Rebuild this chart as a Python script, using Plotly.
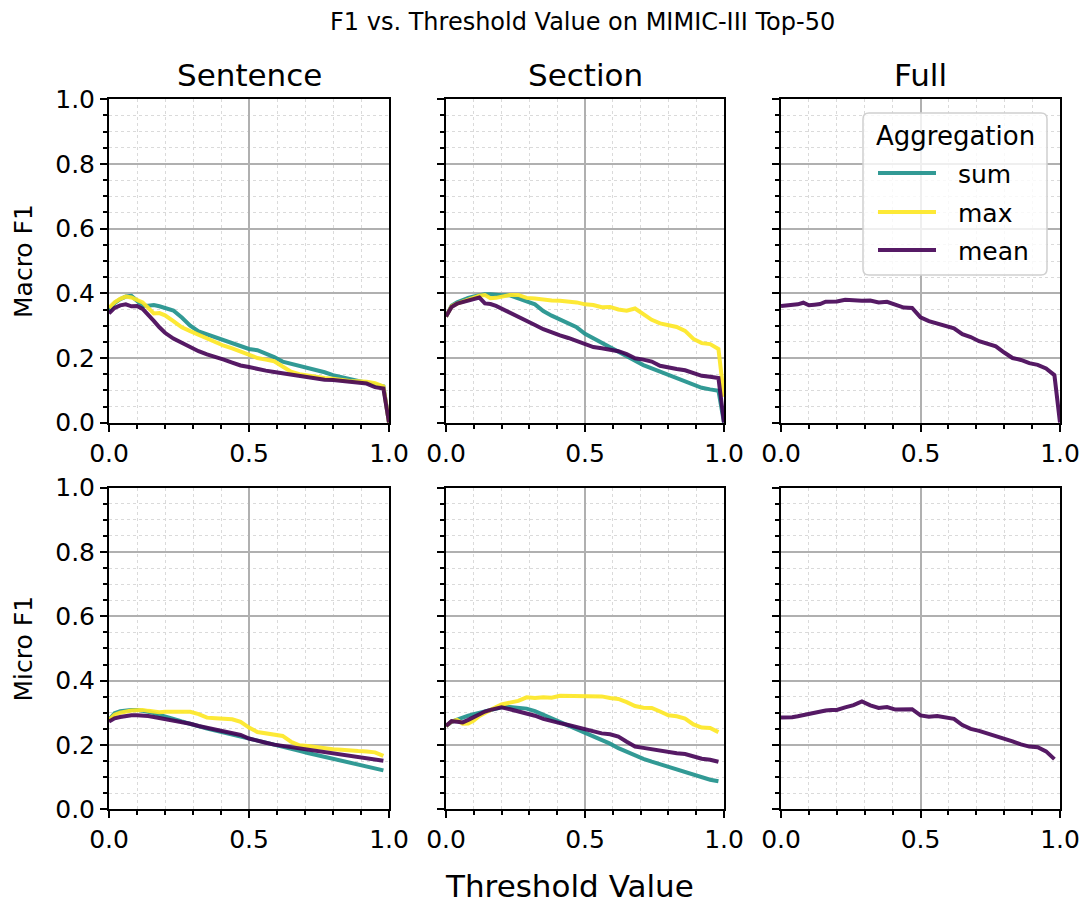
import plotly.graph_objects as go

# ---------------- data ----------------
thresholds = [0.0, 0.02, 0.04, 0.06, 0.08, 0.10, 0.12, 0.14, 0.16, 0.18,
              0.20, 0.23, 0.26, 0.29, 0.32, 0.35, 0.38, 0.41, 0.44, 0.47,
              0.50, 0.53, 0.56, 0.59, 0.62, 0.65, 0.68, 0.71, 0.74, 0.77,
              0.80, 0.83, 0.86, 0.89, 0.92, 0.95, 0.98]
thresholds_macro = thresholds + [1.0]

sentence_macro_sum = [0.345, 0.370, 0.382, 0.390, 0.392, 0.375, 0.362, 0.362, 0.364, 0.360,
                      0.356, 0.347, 0.325, 0.300, 0.282, 0.273, 0.264, 0.253, 0.243, 0.234,
                      0.228, 0.224, 0.215, 0.203, 0.189, 0.183, 0.176, 0.171, 0.163, 0.156,
                      0.147, 0.140, 0.134, 0.129, 0.124, 0.118, 0.112, 0.0]
sentence_macro_max = [0.355, 0.372, 0.383, 0.390, 0.387, 0.379, 0.372, 0.355, 0.338, 0.339,
                      0.332, 0.314, 0.295, 0.283, 0.272, 0.259, 0.248, 0.238, 0.230, 0.220,
                      0.210, 0.200, 0.195, 0.190, 0.174, 0.158, 0.150, 0.145, 0.141, 0.138,
                      0.136, 0.132, 0.129, 0.128, 0.127, 0.122, 0.112, 0.0]
sentence_macro_mean = [0.338, 0.355, 0.363, 0.366, 0.360, 0.361, 0.352, 0.335, 0.315, 0.295,
                       0.278, 0.260, 0.246, 0.232, 0.221, 0.211, 0.204, 0.195, 0.186, 0.177,
                       0.172, 0.165, 0.161, 0.157, 0.153, 0.147, 0.142, 0.139, 0.136, 0.133,
                       0.132, 0.130, 0.128, 0.126, 0.121, 0.110, 0.106, 0.0]

section_macro_sum = [0.328, 0.362, 0.372, 0.380, 0.386, 0.390, 0.394, 0.397, 0.397, 0.394,
                     0.394, 0.394, 0.386, 0.375, 0.366, 0.345, 0.331, 0.320, 0.309, 0.295,
                     0.275, 0.261, 0.246, 0.232, 0.219, 0.205, 0.189, 0.178, 0.168, 0.158,
                     0.148, 0.139, 0.128, 0.116, 0.108, 0.103, 0.099, 0.0]
section_macro_max = [0.328, 0.360, 0.368, 0.374, 0.379, 0.386, 0.393, 0.395, 0.385, 0.386,
                     0.389, 0.395, 0.395, 0.386, 0.384, 0.380, 0.378, 0.377, 0.375, 0.372,
                     0.366, 0.364, 0.357, 0.358, 0.350, 0.346, 0.353, 0.334, 0.318, 0.307,
                     0.300, 0.296, 0.284, 0.259, 0.246, 0.243, 0.228, 0.08]
section_macro_mean = [0.328, 0.358, 0.368, 0.373, 0.377, 0.381, 0.387, 0.369, 0.367, 0.361,
                      0.353, 0.341, 0.327, 0.314, 0.302, 0.289, 0.278, 0.270, 0.262, 0.253,
                      0.243, 0.234, 0.230, 0.227, 0.221, 0.212, 0.199, 0.195, 0.189, 0.176,
                      0.170, 0.166, 0.162, 0.153, 0.145, 0.142, 0.138, 0.0]

full_macro_mean = [0.361, 0.362, 0.363, 0.366, 0.371, 0.363, 0.365, 0.367, 0.374, 0.375,
                   0.375, 0.380, 0.378, 0.377, 0.378, 0.372, 0.374, 0.365, 0.356, 0.355,
                   0.326, 0.314, 0.306, 0.300, 0.292, 0.274, 0.265, 0.252, 0.243, 0.236,
                   0.217, 0.200, 0.194, 0.184, 0.179, 0.168, 0.147, 0.0]

sentence_micro_sum = [0.278, 0.299, 0.305, 0.308, 0.309, 0.309, 0.307, 0.303, 0.299, 0.293,
                      0.288, 0.281, 0.273, 0.265, 0.257, 0.251, 0.245, 0.239, 0.233, 0.226,
                      0.219, 0.212, 0.207, 0.201, 0.194, 0.188, 0.182, 0.175, 0.169, 0.163,
                      0.156, 0.149, 0.143, 0.137, 0.132, 0.126, 0.121]
sentence_micro_max = [0.278, 0.294, 0.300, 0.304, 0.307, 0.308, 0.309, 0.306, 0.303, 0.302,
                      0.303, 0.304, 0.302, 0.303, 0.296, 0.285, 0.283, 0.283, 0.280, 0.272,
                      0.254, 0.240, 0.236, 0.235, 0.228, 0.210, 0.199, 0.197, 0.193, 0.190,
                      0.187, 0.185, 0.182, 0.181, 0.180, 0.177, 0.166]
sentence_micro_mean = [0.273, 0.283, 0.287, 0.290, 0.292, 0.292, 0.292, 0.290, 0.287, 0.284,
                       0.281, 0.276, 0.271, 0.266, 0.259, 0.253, 0.248, 0.243, 0.238, 0.231,
                       0.220, 0.212, 0.207, 0.201, 0.197, 0.193, 0.189, 0.185, 0.181, 0.177,
                       0.173, 0.170, 0.167, 0.164, 0.160, 0.156, 0.151]

section_micro_sum = [0.259, 0.272, 0.279, 0.286, 0.291, 0.296, 0.300, 0.304, 0.309, 0.313,
                     0.317, 0.318, 0.316, 0.313, 0.305, 0.294, 0.284, 0.273, 0.262, 0.250,
                     0.238, 0.228, 0.218, 0.204, 0.190, 0.178, 0.166, 0.157, 0.148, 0.140,
                     0.133, 0.124, 0.115, 0.107, 0.099, 0.092, 0.087]
section_micro_max = [0.259, 0.273, 0.278, 0.266, 0.267, 0.276, 0.290, 0.300, 0.308, 0.318,
                     0.326, 0.330, 0.337, 0.348, 0.346, 0.348, 0.347, 0.353, 0.352, 0.352,
                     0.352, 0.352, 0.351, 0.346, 0.343, 0.333, 0.321, 0.316, 0.315, 0.304,
                     0.292, 0.289, 0.282, 0.264, 0.254, 0.253, 0.240]
section_micro_mean = [0.259, 0.274, 0.272, 0.270, 0.278, 0.286, 0.297, 0.304, 0.309, 0.313,
                      0.317, 0.311, 0.305, 0.299, 0.291, 0.281, 0.276, 0.268, 0.262, 0.255,
                      0.247, 0.241, 0.236, 0.233, 0.226, 0.210, 0.195, 0.191, 0.187, 0.181,
                      0.176, 0.174, 0.172, 0.165, 0.157, 0.154, 0.148]

full_micro_mean = [0.285, 0.285, 0.286, 0.289, 0.293, 0.297, 0.300, 0.304, 0.307, 0.309,
                   0.309, 0.317, 0.324, 0.335, 0.323, 0.315, 0.318, 0.310, 0.312, 0.311,
                   0.292, 0.288, 0.290, 0.285, 0.281, 0.262, 0.250, 0.244, 0.236, 0.230,
                   0.221, 0.211, 0.202, 0.195, 0.193, 0.180, 0.156]

column_titles = ["Sentence", "Section", "Full"]
row_labels = ["Macro F1", "Micro F1"]
aggregations = ["sum", "max", "mean"]
legend_title = "Aggregation"
title_text = "F1 vs. Threshold Value on MIMIC-III Top-50"
x_label = "Threshold Value"

panels = [
    # (row, col, x, {agg: values})
    (0, 0, thresholds_macro, {"sum": sentence_macro_sum, "max": sentence_macro_max, "mean": sentence_macro_mean}),
    (0, 1, thresholds_macro, {"sum": section_macro_sum, "max": section_macro_max, "mean": section_macro_mean}),
    (0, 2, thresholds_macro, {"mean": full_macro_mean}),
    (1, 0, thresholds, {"sum": sentence_micro_sum, "max": sentence_micro_max, "mean": sentence_micro_mean}),
    (1, 1, thresholds, {"sum": section_micro_sum, "max": section_micro_max, "mean": section_micro_mean}),
    (1, 2, thresholds, {"mean": full_micro_mean}),
]

# ---------------- style ----------------
W, H = 1087, 903
FONT = "DejaVu Sans"
colors = {"sum": "rgba(33,145,140,0.92)", "max": "rgba(253,231,37,0.92)", "mean": "rgba(68,1,84,0.9)"}
cols_px = [(109, 389), (446, 724), (781, 1060)]
rows_px = [(99.3, 422.7), (487.6, 809.3)]
LW = 4.0


def px_x(p):
    return p / W


def px_y(p):
    return 1 - p / H


fig = go.Figure()
layout_axes = {}

for (r, c, xs, series) in panels:
    n = r * 3 + c + 1
    xname = "x" if n == 1 else f"x{n}"
    yname = "y" if n == 1 else f"y{n}"
    for agg in aggregations:
        if agg not in series:
            continue
        fig.add_trace(go.Scatter(
            x=xs, y=series[agg], mode="lines", name=agg,
            line=dict(color=colors[agg], width=LW),
            xaxis=xname, yaxis=yname,
            legendgroup=agg, showlegend=False,
        ))
    common = dict(
        range=[0, 1], showline=True, linecolor="black", linewidth=2, mirror=True,
        ticks="outside", ticklen=7, tickwidth=1.8, tickcolor="black",
        showgrid=True, gridcolor="#b0b0b0", gridwidth=1.6, zeroline=False,
        tickfont=dict(size=25, color="black", family=FONT), tickformat=".1f",
        fixedrange=True, automargin=False,
    )
    xa = dict(common)
    xa.update(
        domain=[px_x(cols_px[c][0]), px_x(cols_px[c][1])], anchor=yname,
        tick0=0, dtick=0.5,
        minor=dict(dtick=0.1, ticklen=4, tickwidth=1.5, tickcolor="black", ticks="outside",
                   showgrid=True, gridcolor="#dadada", griddash="dot", gridwidth=1),
    )
    ya = dict(common)
    ya.update(
        domain=[px_y(rows_px[r][1]), px_y(rows_px[r][0])], anchor=xname,
        tick0=0, dtick=0.2, showticklabels=(c == 0),
        minor=dict(dtick=0.05, ticklen=4, tickwidth=1.5, tickcolor="black", ticks="outside",
                   showgrid=True, gridcolor="#dadada", griddash="dot", gridwidth=1),
    )
    layout_axes["xaxis" if n == 1 else f"xaxis{n}"] = xa
    layout_axes["yaxis" if n == 1 else f"yaxis{n}"] = ya

annotations = []
shapes = []
annotations.append(dict(text=title_text, x=px_x(582), y=px_y(22), xref="paper", yref="paper",
                        xanchor="center", yanchor="middle", showarrow=False,
                        font=dict(size=24, color="black", family=FONT)))
for c, t in enumerate(column_titles):
    cx = (cols_px[c][0] + cols_px[c][1]) / 2
    annotations.append(dict(text=t, x=px_x(cx), y=px_y(75), xref="paper", yref="paper",
                            xanchor="center", yanchor="middle", showarrow=False,
                            font=dict(size=31, color="black", family=FONT)))
for r, t in enumerate(row_labels):
    cy = (rows_px[r][0] + rows_px[r][1]) / 2
    annotations.append(dict(text=t, x=px_x(23), y=px_y(cy), xref="paper", yref="paper",
                            xanchor="center", yanchor="middle", showarrow=False, textangle=-90,
                            font=dict(size=25, color="black", family=FONT)))
annotations.append(dict(text=x_label, x=px_x(569), y=px_y(886), xref="paper", yref="paper",
                        xanchor="center", yanchor="middle", showarrow=False,
                        font=dict(size=31, color="black", family=FONT)))

# ---- legend box (matplotlib-style, drawn in the Full / Macro panel) ----
lx0, lx1, ly0, ly1, rad = 863, 1047, 113, 275, 6
path = (f"M{px_x(lx0 + rad)},{px_y(ly0)} L{px_x(lx1 - rad)},{px_y(ly0)} "
        f"Q{px_x(lx1)},{px_y(ly0)} {px_x(lx1)},{px_y(ly0 + rad)} "
        f"L{px_x(lx1)},{px_y(ly1 - rad)} Q{px_x(lx1)},{px_y(ly1)} {px_x(lx1 - rad)},{px_y(ly1)} "
        f"L{px_x(lx0 + rad)},{px_y(ly1)} Q{px_x(lx0)},{px_y(ly1)} {px_x(lx0)},{px_y(ly1 - rad)} "
        f"L{px_x(lx0)},{px_y(ly0 + rad)} Q{px_x(lx0)},{px_y(ly0)} {px_x(lx0 + rad)},{px_y(ly0)} Z")
shapes.append(dict(type="path", path=path, xref="paper", yref="paper",
                   fillcolor="rgba(255,255,255,0.8)", line=dict(color="#d0d0d0", width=1.5),
                   layer="above"))
annotations.append(dict(text=legend_title, x=px_x((lx0 + lx1) / 2), y=px_y(136), xref="paper", yref="paper",
                        xanchor="center", yanchor="middle", showarrow=False,
                        font=dict(size=26, color="black", family=FONT)))
entry_y = {"sum": 173, "max": 212, "mean": 250}
for agg in aggregations:
    yy = entry_y[agg]
    shapes.append(dict(type="line", xref="paper", yref="paper",
                       x0=px_x(878), x1=px_x(936), y0=px_y(yy), y1=px_y(yy),
                       line=dict(color=colors[agg], width=LW), layer="above"))
    annotations.append(dict(text=agg, x=px_x(956), y=px_y(yy + 1), xref="paper", yref="paper",
                            xanchor="left", yanchor="middle", showarrow=False,
                            font=dict(size=25, color="black", family=FONT)))

fig.update_layout(
    width=W, height=H, margin=dict(l=0, r=0, t=0, b=0),
    paper_bgcolor="white", plot_bgcolor="white",
    font=dict(family=FONT, color="black"),
    showlegend=False,
    annotations=annotations, shapes=shapes,
    **layout_axes,
)

fig.write_html("out.html")
